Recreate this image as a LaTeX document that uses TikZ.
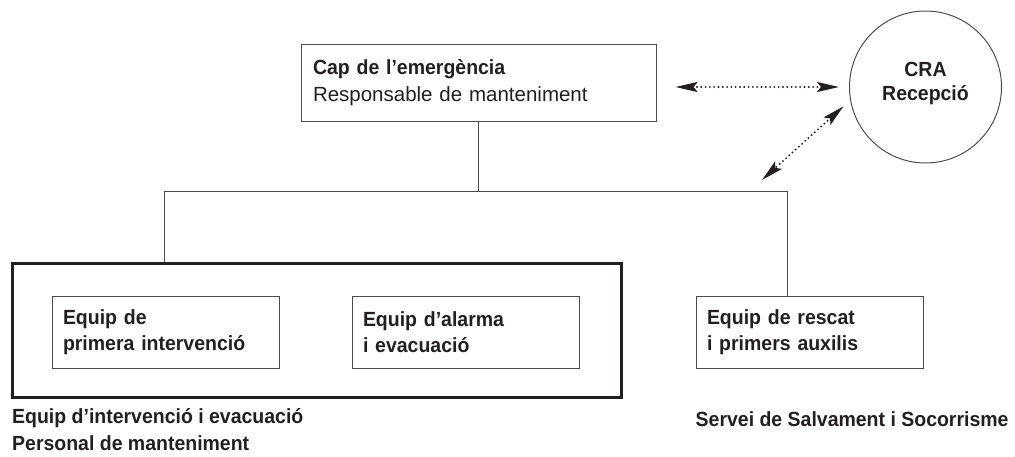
\documentclass[tikz,border=0pt]{standalone}
\usepackage{fontspec}
\setmainfont{Liberation Sans}[BoldFeatures={FakeStretch=0.95}]
\usetikzlibrary{arrows.meta, positioning}
\definecolor{ink}{HTML}{231F20}
\definecolor{rule}{HTML}{4D4D4D}

\begin{document}
\begin{tikzpicture}[x=1pt,y=-1pt]
\tikzset{font=\fontsize{20.5}{26.5}\selectfont}
\tikzset{text=ink}
\tikzset{box/.style={draw=rule, line width=1pt, minimum width=227pt, minimum height=72pt, text width=205pt, inner sep=0pt, align=left, font=\fontsize{20.5}{26.5}\selectfont\bfseries}}
\tikzset{note/.style={inner sep=0pt, align=left, font=\fontsize{20.5}{26.5}\selectfont\bfseries}}
\tikzset{wire/.style={draw=rule, line width=1pt}}
\tikzset{link/.style={draw=ink, line width=2.1pt, dash pattern=on 0pt off 4.3pt, line cap=round, {Stealth[length=22pt,width=10pt,inset=4pt]}-{Stealth[length=22pt,width=10pt,inset=4pt]}}}
\useasboundingbox (0,0) rectangle (1015,456);
% caps
\node[box, minimum width=355pt, minimum height=77pt, text width=331pt] (cap) at (478.5,82.5) {Cap de l’emergència\\\mdseries Responsable de manteniment};
\node[draw=rule, line width=1pt, circle, minimum size=152pt, inner sep=0pt] (cra) at (925.5,87) {};
\node[note, align=center, font=\fontsize{20.5}{24}\selectfont\bfseries] (cratext) at ([yshift=4pt]cra.center) {CRA\\Recepció};
% equips
\node[draw=ink, line width=3pt, minimum width=609pt, minimum height=134pt] (eie) at (316.5,330) {};
\node[box] (primera) at (165.5,332) {Equip de\\primera intervenció};
\node[box] (alarma) at (465.5,332) {Equip d’alarma\\i evacuació};
\node[box] (rescat) at (809.5,332) {Equip de rescat\\i primers auxilis};
\node[note, below right=10pt and 1.5pt of eie.south west] (eielabel) {Equip d’intervenció i evacuació\\Personal de manteniment};
\node[note, below right=42.5pt and 0pt of rescat.south west] (sss) {Servei de Salvament i Socorrisme};
% lines
\coordinate (jl) at (164,191);
\coordinate (jr) at (787,191);
\draw[wire] (cap.south) -- (cap.south |- jl);
\draw[wire] (eie.north -| jl) |- (jr) -- (rescat.north -| jr);
\coordinate (sos) at (762,180);
\draw[link, shorten <=19pt, shorten >=10pt] (cap.east |- cra.west) -- (cra.west);
\draw[link, shorten <=9pt] (cra.190) -- (sos);
\end{tikzpicture}
\end{document}
